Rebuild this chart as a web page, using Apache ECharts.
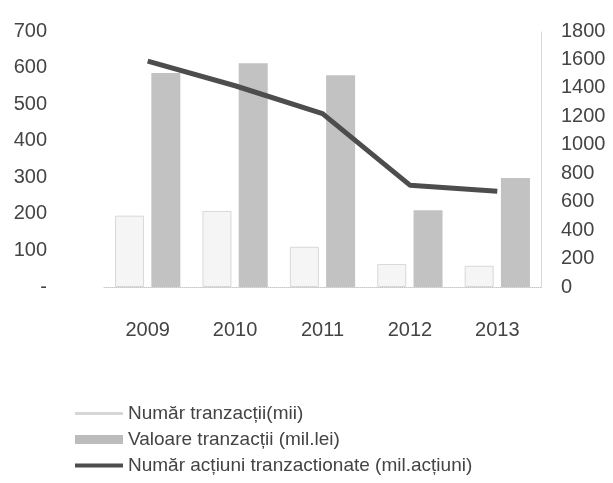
<!DOCTYPE html>
<html>
<head>
<meta charset="utf-8">
<script src="https://cdn.jsdelivr.net/npm/echarts@6/dist/echarts.min.js"></script>
<style>
html,body{margin:0;padding:0;background:#fff;}
#chart{width:613px;height:483px;}
</style>
</head>
<body>
<div id="chart"></div>
<script>
const years = ['2009', '2010', '2011', '2012', '2013'];
const numarTranzactii = [195, 208, 110, 63, 58];
const valoareTranzactii = [585, 612, 579, 210, 298];
const numarActiuni = [1588, 1415, 1219, 716, 673];
const leftTicks = { min: 0, max: 700, interval: 100 };
const rightTicks = { min: 0, max: 1800, interval: 200 };
const names = ['Număr tranzacții(mii)', 'Valoare tranzacții (mil.lei)', 'Număr acțiuni tranzactionate (mil.acțiuni)'];

const font = '"Liberation Sans", Arial, sans-serif';
const textColor = '#444444';
const chart = echarts.init(document.getElementById('chart'));
chart.setOption({
  animation: false,
  backgroundColor: '#ffffff',
  textStyle: { fontFamily: font },
  grid: { left: 104, right: 72, top: 31, bottom: 196 },
  legend: {
    orient: 'vertical',
    left: 70,
    top: 399,
    itemWidth: 48,
    itemHeight: 12,
    itemGap: 7,
    symbolKeepAspect: true,
    textStyle: { fontFamily: font, fontSize: 19, color: textColor },
    data: [
      { name: names[0], icon: 'path://M0,0L48,0L48,3L0,3Z', itemStyle: { color: '#d6d6d6', borderWidth: 0 } },
      { name: names[1], icon: 'path://M0,0L48,0L48,9L0,9Z', itemStyle: { color: '#bcbcbc', borderWidth: 0 } },
      { name: names[2], icon: 'path://M0,0L48,0L48,4L0,4Z', itemStyle: { color: '#4d4d4d' } }
    ]
  },
  xAxis: {
    type: 'category',
    data: years,
    axisLine: { show: true, lineStyle: { color: '#c8c8c8', type: 'dotted', width: 1 } },
    axisTick: { show: false },
    axisLabel: { margin: 33, fontSize: 20, color: textColor, fontFamily: font }
  },
  yAxis: [
    {
      type: 'value',
      min: leftTicks.min, max: leftTicks.max, interval: leftTicks.interval,
      axisLine: { show: false },
      axisTick: { show: false },
      splitLine: { show: false },
      axisLabel: {
        margin: 57, fontSize: 20, color: textColor, fontFamily: font,
        formatter: v => (v === 0 ? '-' : String(v))
      }
    },
    {
      type: 'value',
      position: 'right',
      min: rightTicks.min, max: rightTicks.max, interval: rightTicks.interval,
      axisLine: { show: true, lineStyle: { color: '#d0d0d0', type: 'dotted', width: 1 } },
      axisTick: { show: false },
      splitLine: { show: false },
      axisLabel: { margin: 20, fontSize: 20, color: textColor, fontFamily: font, formatter: v => String(v) }
    }
  ],
  series: [
    {
      name: names[0],
      type: 'bar',
      yAxisIndex: 0,
      data: numarTranzactii,
      barWidth: 29,
      barGap: '25%',
      itemStyle: { color: '#f5f5f5', borderColor: '#d8d8d8', borderWidth: 1 }
    },
    {
      name: names[1],
      type: 'bar',
      yAxisIndex: 0,
      data: valoareTranzactii,
      barWidth: 29,
      itemStyle: { color: '#c2c2c2' }
    },
    {
      name: names[2],
      type: 'line',
      yAxisIndex: 1,
      data: numarActiuni,
      symbol: 'none',
      lineStyle: { color: '#4d4d4d', width: 5 },
      itemStyle: { color: '#4d4d4d' }
    }
  ]
});
</script>
</body>
</html>
